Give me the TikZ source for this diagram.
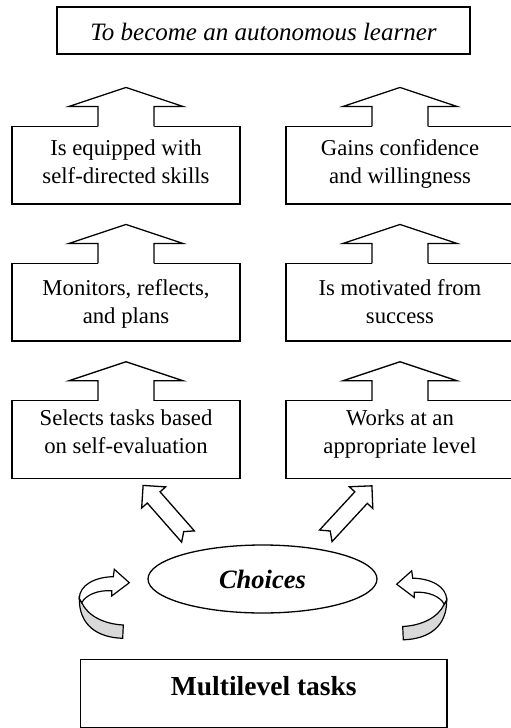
\documentclass[tikz,border=0pt]{standalone}
\usepackage{fontspec}
\setmainfont{Liberation Serif}
\usetikzlibrary{shapes.geometric}
\newcommand\blkup[1]{%
  \fill[white] ([xshift=-28pt,yshift=-1.6pt]#1.north) -- ++(0pt,21.6pt) -- ++(-29pt,0pt) -- ++(57pt,19pt) -- ++(57pt,-19pt) -- ++(-29pt,0pt) -- ++(0pt,-21.6pt) -- cycle;
  \draw ([xshift=-28pt]#1.north) -- ++(0pt,20pt) -- ++(-29pt,0pt) -- ++(57pt,19pt) -- ++(57pt,-19pt) -- ++(-29pt,0pt) -- ++(0pt,-20pt);}
\newcommand\notcharrow[2]{%
  \begin{scope}[shift={(#1)}, rotate=#2, x=1pt, y=1pt]
    \draw[fill=white] (0,8.5) -- (52,8.5) -- (52,16) -- (68,0) -- (52,-16) -- (52,-8.5) -- (0,-8.5) -- (6.5,0) -- cycle;
  \end{scope}}
\newcommand\curvedarr{%
  \draw[fill=black!15] (79.3,598.3) -- (81.7,602.7) .. controls (88,616) and (104,624) .. (123.3,625) -- (122.7,638.3) .. controls (97,637.5) and (79,625) .. (79.3,598.3) -- cycle;
  \draw[fill=white] (79.3,598.3) .. controls (79.5,585) and (95,577) .. (113.3,576.7) -- (114.3,569.3) -- (129.3,582.7) -- (111.7,596) -- (111.7,590.7) .. controls (97,590) and (86,595) .. (81.7,602.7) -- cycle;}
\begin{document}
\begin{tikzpicture}[x=1pt, y=-1pt, line width=1.3pt, line join=miter,
  box/.style={draw, rectangle, inner sep=0pt, outer sep=0pt, minimum width=228pt, minimum height=77.5pt},
  txt/.style={inner sep=0pt, align=center, anchor=north, font=\fontsize{22.7}{27.5}\selectfont}]
\useasboundingbox (0,0) rectangle (511,728);

% goal
\node[box, minimum width=413pt, minimum height=47pt, text height=33pt, text depth=14pt,
      font=\fontsize{25}{29}\selectfont\itshape] (goal) at (263.5,30.5) {To become an autonomous learner};

% boxes
\node[box] (l1) at (126,165.2) {};
\node[box] (r1) at (400,165.2) {};
\node[box] (l2) at (126,302.2) {};
\node[box] (r2) at (400,302.2) {};
\node[box] (l3) at (126,439.5) {};
\node[box] (r3) at (400,439.5) {};

\node[txt] (tl1) at ([yshift=-12.8pt]l1.north) {Is equipped with\\self-directed skills};
\node[txt] (tr1) at ([yshift=-12.8pt]r1.north) {Gains confidence\\and willingness};
\node[txt] (tl2) at ([yshift=-15.5pt]l2.north) {Monitors, reflects,\\and plans};
\node[txt] (tr2) at ([yshift=-15.5pt]r2.north) {Is motivated from\\success};
\node[txt] (tl3) at ([yshift=-8.8pt]l3.north) {Selects tasks based\\on self-evaluation};
\node[txt] (tr3) at ([yshift=-8.8pt]r3.north) {Works at an\\appropriate level};

% block arrows
\blkup{l1}\blkup{r1}\blkup{l2}\blkup{r2}\blkup{l3}\blkup{r3}

% choices
\node[draw, ellipse, inner sep=0pt, minimum width=229pt, minimum height=68pt,
      font=\fontsize{26.5}{30}\selectfont\bfseries\itshape] (ch) at (262.5,579) {Choices};

\coordinate (lt) at (188,536.5);
\coordinate (rt) at (325.8,535.8);
\notcharrow{lt}{131.3}
\notcharrow{rt}{47.3}

% curved arrows
\begin{scope}[line width=1.2pt]
  \curvedarr
\end{scope}
\begin{scope}[line width=1.2pt, xshift=526pt, xscale=-1, yshift=-1.5pt]
  \curvedarr
\end{scope}

% multilevel tasks
\node[box, minimum width=366.5pt, minimum height=68pt, text height=35.7pt, text depth=32.3pt,
      font=\fontsize{27.5}{32}\selectfont\bfseries] (ml) at (263.8,693.3) {Multilevel tasks};
\end{tikzpicture}
\end{document}
